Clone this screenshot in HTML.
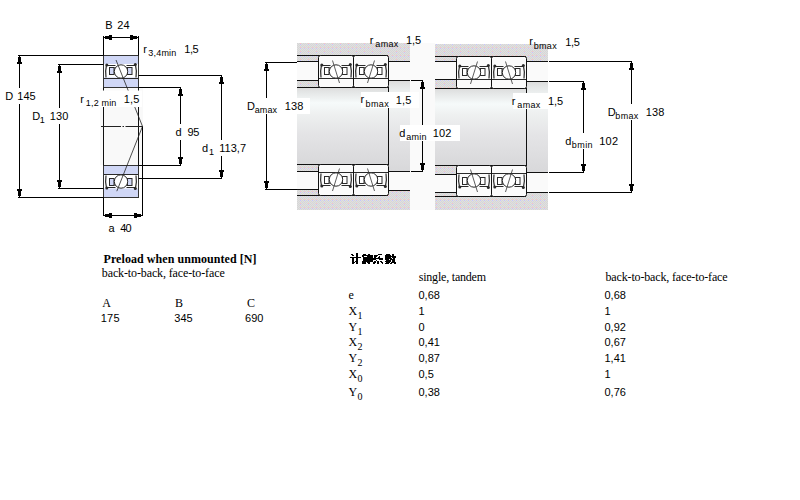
<!DOCTYPE html>
<html><head><meta charset="utf-8"><style>
html,body{margin:0;padding:0;background:#fff;width:800px;height:500px;overflow:hidden}
svg{position:absolute;left:0;top:0}
</style></head><body>
<svg width="800" height="500" viewBox="0 0 800 500">
<defs><linearGradient id="shaft" x1="0" y1="0" x2="0" y2="1">
<stop offset="0" stop-color="#dcdcdc"/><stop offset="0.06" stop-color="#e4e6e6"/><stop offset="0.2" stop-color="#f6fafa"/><stop offset="0.35" stop-color="#eef0f0"/><stop offset="0.6" stop-color="#e4e4e6"/><stop offset="1" stop-color="#d8d8da"/>
</linearGradient>
<pattern id="hous" x="4" y="3" width="8" height="8" patternUnits="userSpaceOnUse">
<rect width="8" height="8" fill="#d6d6d6"/>
<path d="M0,0h1v1h-1zM2,0h1v1h-1zM4,0h1v1h-1zM6,0h1v1h-1zM1,1h1v1h-1zM3,1h1v1h-1zM5,1h1v1h-1zM7,1h1v1h-1zM0,2h1v1h-1zM2,2h1v1h-1zM4,2h1v1h-1zM6,2h1v1h-1zM1,3h1v1h-1zM3,3h1v1h-1zM5,3h1v1h-1zM7,3h1v1h-1zM0,4h1v1h-1zM2,4h1v1h-1zM4,4h1v1h-1zM6,4h1v1h-1zM1,5h1v1h-1zM3,5h1v1h-1zM5,5h1v1h-1zM7,5h1v1h-1zM0,6h1v1h-1zM2,6h1v1h-1zM4,6h1v1h-1zM6,6h1v1h-1zM1,7h1v1h-1zM3,7h1v1h-1zM5,7h1v1h-1zM7,7h1v1h-1z" fill="#e0e0e0"/>
<rect x="0" y="0" width="1" height="1" fill="#ffc4c4"/><rect x="0" y="1" width="1" height="1" fill="#c4c4ff"/>
<rect x="0" y="4" width="1" height="1" fill="#ffc4c4"/><rect x="0" y="5" width="1" height="1" fill="#c4c4ff"/>
<rect x="4" y="4" width="1" height="1" fill="#ffc4c4"/><rect x="4" y="5" width="1" height="1" fill="#c4c4ff"/>
</pattern></defs>
<rect x="100" y="88" width="43" height="77" fill="#f9f9f9" />
<rect x="103.5" y="55.5" width="35" height="32" fill="#d0d7f6" stroke="#333" stroke-width="1"/>
<rect x="104" y="64" width="34" height="13.5" fill="#fff" />
<path d="M107,65.5 L115.5,65.5" fill="none" stroke="#2a2a2a" stroke-width="1" />
<path d="M126.5,65.5 L135,65.5" fill="none" stroke="#2a2a2a" stroke-width="1" />
<line x1="104" y1="78.5" x2="138" y2="78.5" stroke="#2a2a2a" stroke-width="1" />
<rect x="109.5" y="67.5" width="4.5" height="7" fill="#d0d7f6" stroke="#2a2a2a" stroke-width="1"/>
<rect x="127.5" y="67.5" width="4.5" height="7" fill="#d0d7f6" stroke="#2a2a2a" stroke-width="1"/>
<line x1="114" y1="68" x2="116" y2="68" stroke="#2a2a2a" stroke-width="1" />
<line x1="126" y1="68" x2="127.5" y2="68" stroke="#2a2a2a" stroke-width="1" />
<circle cx="121" cy="71.5" r="6.7" fill="#fff" stroke="#2a2a2a" stroke-width="1"/>
<path d="M106.5,65 Q105,71 106,77.5" fill="none" stroke="#2a2a2a" stroke-width="1.2" />
<path d="M135.5,65 Q137,71 136,77.5" fill="none" stroke="#2a2a2a" stroke-width="1.2" />
<circle cx="106.8" cy="65" r="1.5" fill="#2a2a2a"/>
<circle cx="135.3" cy="64.5" r="1.5" fill="#2a2a2a"/>
<rect x="103.5" y="165.5" width="35" height="32" fill="#d0d7f6" stroke="#333" stroke-width="1"/>
<rect x="104" y="175" width="34" height="13.5" fill="#fff" />
<path d="M107,187.5 L115.5,187.5" fill="none" stroke="#2a2a2a" stroke-width="1" />
<path d="M126.5,187.5 L135,187.5" fill="none" stroke="#2a2a2a" stroke-width="1" />
<line x1="104" y1="174.5" x2="138" y2="174.5" stroke="#2a2a2a" stroke-width="1" />
<rect x="109.5" y="178.5" width="4.5" height="7" fill="#d0d7f6" stroke="#2a2a2a" stroke-width="1"/>
<rect x="127.5" y="178.5" width="4.5" height="7" fill="#d0d7f6" stroke="#2a2a2a" stroke-width="1"/>
<line x1="114" y1="185" x2="116" y2="185" stroke="#2a2a2a" stroke-width="1" />
<line x1="126" y1="185" x2="127.5" y2="185" stroke="#2a2a2a" stroke-width="1" />
<circle cx="121" cy="181.5" r="6.7" fill="#fff" stroke="#2a2a2a" stroke-width="1"/>
<path d="M106.5,188 Q105,182 106,175.5" fill="none" stroke="#2a2a2a" stroke-width="1.2" />
<path d="M135.5,188 Q137,182 136,175.5" fill="none" stroke="#2a2a2a" stroke-width="1.2" />
<circle cx="106.8" cy="188" r="1.5" fill="#2a2a2a"/>
<circle cx="135.3" cy="188.5" r="1.5" fill="#2a2a2a"/>
<line x1="103.5" y1="87.5" x2="103.5" y2="165.5" stroke="#111" stroke-width="1" />
<line x1="138.5" y1="87.5" x2="138.5" y2="165.5" stroke="#111" stroke-width="1" />
<line x1="103.5" y1="36" x2="103.5" y2="55.5" stroke="#000" stroke-width="1" />
<line x1="138.5" y1="36" x2="138.5" y2="55.5" stroke="#000" stroke-width="1" />
<line x1="103.5" y1="37.5" x2="138.5" y2="37.5" stroke="#000" stroke-width="1" />
<path d="M103,37.0 V38.0 H105 V39.0 H109 V40.0 H112 V35.0 H109 V36.0 H105 V37.0 Z" fill="#000" stroke="none" stroke-width="1" />
<path d="M139,37.0 V38.0 H137 V39.0 H133 V40.0 H130 V35.0 H133 V36.0 H137 V37.0 Z" fill="#000" stroke="none" stroke-width="1" />
<text x="105.30" y="29" font-family="Liberation Sans" font-size="11">B</text>
<text x="117.30" y="29" font-family="Liberation Sans" font-size="11" textLength="12.25" lengthAdjust="spacing">24</text>
<line x1="18" y1="55.5" x2="103.5" y2="55.5" stroke="#000" stroke-width="1" />
<line x1="58" y1="64.5" x2="103.5" y2="64.5" stroke="#000" stroke-width="1" />
<line x1="19.5" y1="55.5" x2="19.5" y2="88" stroke="#000" stroke-width="1" />
<line x1="19.5" y1="104" x2="19.5" y2="197.5" stroke="#000" stroke-width="1" />
<path d="M19.0,55 H20.0 V57 H21.0 V62 H22.0 V64 H17.0 V62 H18.0 V57 H19.0 Z" fill="#000" stroke="none" stroke-width="1" />
<path d="M19.0,198 H20.0 V196 H21.0 V191 H22.0 V189 H17.0 V191 H18.0 V196 H19.0 Z" fill="#000" stroke="none" stroke-width="1" />
<line x1="59.5" y1="64.5" x2="59.5" y2="108" stroke="#000" stroke-width="1" />
<line x1="59.5" y1="124" x2="59.5" y2="188.5" stroke="#000" stroke-width="1" />
<path d="M59.0,64 H60.0 V66 H61.0 V71 H62.0 V73 H57.0 V71 H58.0 V66 H59.0 Z" fill="#000" stroke="none" stroke-width="1" />
<path d="M59.0,189 H60.0 V187 H61.0 V182 H62.0 V180 H57.0 V182 H58.0 V187 H59.0 Z" fill="#000" stroke="none" stroke-width="1" />
<line x1="18" y1="197.5" x2="103.5" y2="197.5" stroke="#000" stroke-width="1" />
<line x1="58" y1="188.5" x2="103.5" y2="188.5" stroke="#000" stroke-width="1" />
<text x="5.30" y="100" font-family="Liberation Sans" font-size="11">D</text>
<text x="17.30" y="100" font-family="Liberation Sans" font-size="11" textLength="18.36" lengthAdjust="spacing">145</text>
<text x="32.30" y="120" font-family="Liberation Sans" font-size="11">D</text>
<text x="39.70" y="123" font-family="Liberation Sans" font-size="9">1</text>
<text x="49.70" y="120" font-family="Liberation Sans" font-size="11" textLength="18.56" lengthAdjust="spacing">130</text>
<line x1="138.5" y1="75.5" x2="222" y2="75.5" stroke="#000" stroke-width="1" />
<line x1="138.5" y1="87.5" x2="181" y2="87.5" stroke="#000" stroke-width="1" />
<line x1="138.5" y1="165.5" x2="181" y2="165.5" stroke="#000" stroke-width="1" />
<line x1="138.5" y1="178.5" x2="222" y2="178.5" stroke="#000" stroke-width="1" />
<line x1="180.5" y1="87.5" x2="180.5" y2="124" stroke="#000" stroke-width="1" />
<line x1="180.5" y1="140" x2="180.5" y2="165.5" stroke="#000" stroke-width="1" />
<path d="M180.0,87 H181.0 V89 H182.0 V94 H183.0 V96 H178.0 V94 H179.0 V89 H180.0 Z" fill="#000" stroke="none" stroke-width="1" />
<path d="M180.0,166 H181.0 V164 H182.0 V159 H183.0 V157 H178.0 V159 H179.0 V164 H180.0 Z" fill="#000" stroke="none" stroke-width="1" />
<line x1="221.5" y1="75.5" x2="221.5" y2="140" stroke="#000" stroke-width="1" />
<line x1="221.5" y1="156" x2="221.5" y2="178.5" stroke="#000" stroke-width="1" />
<path d="M221.0,75 H222.0 V77 H223.0 V82 H224.0 V84 H219.0 V82 H220.0 V77 H221.0 Z" fill="#000" stroke="none" stroke-width="1" />
<path d="M221.0,179 H222.0 V177 H223.0 V172 H224.0 V170 H219.0 V172 H220.0 V177 H221.0 Z" fill="#000" stroke="none" stroke-width="1" />
<text x="175.55" y="136" font-family="Liberation Sans" font-size="11">d</text>
<text x="187.55" y="136" font-family="Liberation Sans" font-size="11" textLength="11.75" lengthAdjust="spacing">95</text>
<text x="202.00" y="152" font-family="Liberation Sans" font-size="11">d</text>
<text x="209.00" y="155" font-family="Liberation Sans" font-size="9">1</text>
<text x="219.30" y="152" font-family="Liberation Sans" font-size="11" textLength="26.72" lengthAdjust="spacing">113,7</text>
<path d="M116,60 L142.5,126.4 L116.8,191.2" fill="none" stroke="#222" stroke-width="0.8" />
<line x1="101" y1="126.5" x2="142.5" y2="126.5" stroke="#222" stroke-width="1" stroke-dasharray="20 1.5 1.5 1.5"/>
<line x1="103.5" y1="197.5" x2="103.5" y2="216" stroke="#000" stroke-width="1" />
<line x1="142.5" y1="126.5" x2="142.5" y2="216" stroke="#000" stroke-width="1" />
<line x1="103.5" y1="215.5" x2="142.5" y2="215.5" stroke="#000" stroke-width="1" />
<path d="M103,215.0 V216.0 H105 V217.0 H109 V218.0 H112 V213.0 H109 V214.0 H105 V215.0 Z" fill="#000" stroke="none" stroke-width="1" />
<path d="M143,215.0 V216.0 H141 V217.0 H137 V218.0 H134 V213.0 H137 V214.0 H141 V215.0 Z" fill="#000" stroke="none" stroke-width="1" />
<text x="108.55" y="232" font-family="Liberation Sans" font-size="11">a</text>
<text x="120.30" y="232" font-family="Liberation Sans" font-size="11" textLength="11.25" lengthAdjust="spacing">40</text>
<text x="143.30" y="53" font-family="Liberation Sans" font-size="11">r</text>
<text x="148.30" y="56" font-family="Liberation Sans" font-size="9" textLength="28.02" lengthAdjust="spacing">3,4min</text>
<text x="184.30" y="53" font-family="Liberation Sans" font-size="11" textLength="14.30" lengthAdjust="spacing">1,5</text>
<rect x="78" y="90.5" width="64" height="16.5" fill="#fff" />
<text x="80.30" y="103" font-family="Liberation Sans" font-size="11">r</text>
<text x="85.80" y="106" font-family="Liberation Sans" font-size="9" textLength="30.52" lengthAdjust="spacing">1,2 min</text>
<text x="123.70" y="103" font-family="Liberation Sans" font-size="11" textLength="15.70" lengthAdjust="spacing">1,5</text>
<rect x="410" y="43" width="25" height="167" fill="#fafafa" />
<rect x="297" y="43" width="113" height="167" fill="url(#hous)" />
<rect x="297" y="87.5" width="91.5" height="77" fill="url(#shaft)" />
<rect x="388.5" y="80.5" width="21.5" height="91" fill="url(#shaft)" />
<rect x="297" y="61.5" width="21" height="19" fill="#fafafa" />
<rect x="297" y="171.5" width="21" height="18" fill="#fafafa" />
<rect x="388.5" y="61.5" width="21.5" height="19" fill="#fafafa" />
<rect x="388.5" y="171.5" width="21.5" height="19" fill="#fafafa" />
<line x1="297" y1="55.5" x2="388" y2="55.5" stroke="#111" stroke-width="1" />
<line x1="297" y1="61.5" x2="318" y2="61.5" stroke="#111" stroke-width="1" />
<line x1="297" y1="80.5" x2="318" y2="80.5" stroke="#111" stroke-width="1" />
<line x1="297" y1="87.5" x2="388" y2="87.5" stroke="#111" stroke-width="1" />
<line x1="388" y1="61.5" x2="410" y2="61.5" stroke="#111" stroke-width="1" />
<line x1="388" y1="80.5" x2="410" y2="80.5" stroke="#111" stroke-width="1" />
<line x1="297" y1="164.5" x2="388" y2="164.5" stroke="#111" stroke-width="1" />
<line x1="297" y1="171.5" x2="318" y2="171.5" stroke="#111" stroke-width="1" />
<line x1="297" y1="189.5" x2="318" y2="189.5" stroke="#111" stroke-width="1" />
<line x1="297" y1="195.5" x2="388" y2="195.5" stroke="#111" stroke-width="1" />
<line x1="388" y1="171.5" x2="410" y2="171.5" stroke="#111" stroke-width="1" />
<line x1="388" y1="190.5" x2="410" y2="190.5" stroke="#111" stroke-width="1" />
<rect x="318.5" y="55.5" width="35" height="32" rx="2" fill="#fbfbfb" stroke="#111" stroke-width="1"/>
<path d="M322,65.5 L330.5,65.5" fill="none" stroke="#2a2a2a" stroke-width="1" />
<path d="M341.5,65.5 L350,65.5" fill="none" stroke="#2a2a2a" stroke-width="1" />
<line x1="319" y1="78.5" x2="353" y2="78.5" stroke="#2a2a2a" stroke-width="1" />
<rect x="324.5" y="67.5" width="4.5" height="7" fill="#fff" stroke="#2a2a2a" stroke-width="1"/>
<rect x="342.5" y="67.5" width="4.5" height="7" fill="#fff" stroke="#2a2a2a" stroke-width="1"/>
<line x1="329" y1="68" x2="331" y2="68" stroke="#2a2a2a" stroke-width="1" />
<line x1="341" y1="68" x2="342.5" y2="68" stroke="#2a2a2a" stroke-width="1" />
<circle cx="336" cy="71.5" r="6.7" fill="#fff" stroke="#2a2a2a" stroke-width="1"/>
<path d="M321.5,65 Q320,71 321,77.5" fill="none" stroke="#2a2a2a" stroke-width="1.2" />
<path d="M350.5,65 Q352,71 351,77.5" fill="none" stroke="#2a2a2a" stroke-width="1.2" />
<circle cx="321.8" cy="65" r="1.5" fill="#2a2a2a"/>
<circle cx="350.3" cy="64.5" r="1.5" fill="#2a2a2a"/>
<line x1="332.5" y1="60.5" x2="339.5" y2="83.0" stroke="#333" stroke-width="0.8" />
<rect x="353.5" y="55.5" width="35" height="32" rx="2" fill="#fbfbfb" stroke="#111" stroke-width="1"/>
<path d="M357,65.5 L365.5,65.5" fill="none" stroke="#2a2a2a" stroke-width="1" />
<path d="M376.5,65.5 L385,65.5" fill="none" stroke="#2a2a2a" stroke-width="1" />
<line x1="354" y1="78.5" x2="388" y2="78.5" stroke="#2a2a2a" stroke-width="1" />
<rect x="359.5" y="67.5" width="4.5" height="7" fill="#fff" stroke="#2a2a2a" stroke-width="1"/>
<rect x="377.5" y="67.5" width="4.5" height="7" fill="#fff" stroke="#2a2a2a" stroke-width="1"/>
<line x1="364" y1="68" x2="366" y2="68" stroke="#2a2a2a" stroke-width="1" />
<line x1="376" y1="68" x2="377.5" y2="68" stroke="#2a2a2a" stroke-width="1" />
<circle cx="371" cy="71.5" r="6.7" fill="#fff" stroke="#2a2a2a" stroke-width="1"/>
<path d="M356.5,65 Q355,71 356,77.5" fill="none" stroke="#2a2a2a" stroke-width="1.2" />
<path d="M385.5,65 Q387,71 386,77.5" fill="none" stroke="#2a2a2a" stroke-width="1.2" />
<circle cx="356.8" cy="65" r="1.5" fill="#2a2a2a"/>
<circle cx="385.3" cy="64.5" r="1.5" fill="#2a2a2a"/>
<line x1="374.5" y1="60.5" x2="367.5" y2="83.0" stroke="#333" stroke-width="0.8" />
<rect x="318.5" y="164.5" width="35" height="31" rx="2" fill="#fbfbfb" stroke="#111" stroke-width="1"/>
<path d="M322,185.5 L330.5,185.5" fill="none" stroke="#2a2a2a" stroke-width="1" />
<path d="M341.5,185.5 L350,185.5" fill="none" stroke="#2a2a2a" stroke-width="1" />
<line x1="319" y1="172.5" x2="353" y2="172.5" stroke="#2a2a2a" stroke-width="1" />
<rect x="324.5" y="176.5" width="4.5" height="7" fill="#fff" stroke="#2a2a2a" stroke-width="1"/>
<rect x="342.5" y="176.5" width="4.5" height="7" fill="#fff" stroke="#2a2a2a" stroke-width="1"/>
<line x1="329" y1="183" x2="331" y2="183" stroke="#2a2a2a" stroke-width="1" />
<line x1="341" y1="183" x2="342.5" y2="183" stroke="#2a2a2a" stroke-width="1" />
<circle cx="336" cy="179.5" r="6.7" fill="#fff" stroke="#2a2a2a" stroke-width="1"/>
<path d="M321.5,186 Q320,180 321,173.5" fill="none" stroke="#2a2a2a" stroke-width="1.2" />
<path d="M350.5,186 Q352,180 351,173.5" fill="none" stroke="#2a2a2a" stroke-width="1.2" />
<circle cx="321.8" cy="186" r="1.5" fill="#2a2a2a"/>
<circle cx="350.3" cy="186.5" r="1.5" fill="#2a2a2a"/>
<line x1="339.5" y1="168.5" x2="332.5" y2="191.0" stroke="#333" stroke-width="0.8" />
<rect x="353.5" y="164.5" width="35" height="31" rx="2" fill="#fbfbfb" stroke="#111" stroke-width="1"/>
<path d="M357,185.5 L365.5,185.5" fill="none" stroke="#2a2a2a" stroke-width="1" />
<path d="M376.5,185.5 L385,185.5" fill="none" stroke="#2a2a2a" stroke-width="1" />
<line x1="354" y1="172.5" x2="388" y2="172.5" stroke="#2a2a2a" stroke-width="1" />
<rect x="359.5" y="176.5" width="4.5" height="7" fill="#fff" stroke="#2a2a2a" stroke-width="1"/>
<rect x="377.5" y="176.5" width="4.5" height="7" fill="#fff" stroke="#2a2a2a" stroke-width="1"/>
<line x1="364" y1="183" x2="366" y2="183" stroke="#2a2a2a" stroke-width="1" />
<line x1="376" y1="183" x2="377.5" y2="183" stroke="#2a2a2a" stroke-width="1" />
<circle cx="371" cy="179.5" r="6.7" fill="#fff" stroke="#2a2a2a" stroke-width="1"/>
<path d="M356.5,186 Q355,180 356,173.5" fill="none" stroke="#2a2a2a" stroke-width="1.2" />
<path d="M385.5,186 Q387,180 386,173.5" fill="none" stroke="#2a2a2a" stroke-width="1.2" />
<circle cx="356.8" cy="186" r="1.5" fill="#2a2a2a"/>
<circle cx="385.3" cy="186.5" r="1.5" fill="#2a2a2a"/>
<line x1="367.5" y1="168.5" x2="374.5" y2="191.0" stroke="#333" stroke-width="0.8" />
<line x1="388.5" y1="87" x2="388.5" y2="165" stroke="#111" stroke-width="1" />
<rect x="435" y="44" width="113" height="166" fill="url(#hous)" />
<rect x="435" y="88.5" width="91.5" height="77" fill="url(#shaft)" />
<rect x="526.5" y="81.5" width="21.5" height="91" fill="url(#shaft)" />
<rect x="435" y="61.5" width="21" height="18" fill="#fafafa" />
<rect x="435" y="174.5" width="21" height="18" fill="#fafafa" />
<rect x="526.5" y="61.5" width="21.5" height="20" fill="#fafafa" />
<rect x="526.5" y="172.5" width="21.5" height="20" fill="#fafafa" />
<line x1="435" y1="56.5" x2="526" y2="56.5" stroke="#111" stroke-width="1" />
<line x1="435" y1="61.5" x2="456" y2="61.5" stroke="#111" stroke-width="1" />
<line x1="435" y1="79.5" x2="456" y2="79.5" stroke="#111" stroke-width="1" />
<line x1="435" y1="88.5" x2="526" y2="88.5" stroke="#111" stroke-width="1" />
<line x1="526" y1="61.5" x2="548" y2="61.5" stroke="#111" stroke-width="1" />
<line x1="526" y1="81.5" x2="548" y2="81.5" stroke="#111" stroke-width="1" />
<line x1="435" y1="165.5" x2="526" y2="165.5" stroke="#111" stroke-width="1" />
<line x1="435" y1="174.5" x2="456" y2="174.5" stroke="#111" stroke-width="1" />
<line x1="435" y1="192.5" x2="456" y2="192.5" stroke="#111" stroke-width="1" />
<line x1="435" y1="196.5" x2="526" y2="196.5" stroke="#111" stroke-width="1" />
<line x1="526" y1="172.5" x2="548" y2="172.5" stroke="#111" stroke-width="1" />
<line x1="526" y1="192.5" x2="548" y2="192.5" stroke="#111" stroke-width="1" />
<rect x="456.5" y="56.5" width="35" height="32" rx="2" fill="#fbfbfb" stroke="#111" stroke-width="1"/>
<path d="M460,66.5 L468.5,66.5" fill="none" stroke="#2a2a2a" stroke-width="1" />
<path d="M479.5,66.5 L488,66.5" fill="none" stroke="#2a2a2a" stroke-width="1" />
<line x1="457" y1="79.5" x2="491" y2="79.5" stroke="#2a2a2a" stroke-width="1" />
<rect x="462.5" y="68.5" width="4.5" height="7" fill="#fff" stroke="#2a2a2a" stroke-width="1"/>
<rect x="480.5" y="68.5" width="4.5" height="7" fill="#fff" stroke="#2a2a2a" stroke-width="1"/>
<line x1="467" y1="69" x2="469" y2="69" stroke="#2a2a2a" stroke-width="1" />
<line x1="479" y1="69" x2="480.5" y2="69" stroke="#2a2a2a" stroke-width="1" />
<circle cx="474" cy="72.5" r="6.7" fill="#fff" stroke="#2a2a2a" stroke-width="1"/>
<path d="M459.5,66 Q458,72 459,78.5" fill="none" stroke="#2a2a2a" stroke-width="1.2" />
<path d="M488.5,66 Q490,72 489,78.5" fill="none" stroke="#2a2a2a" stroke-width="1.2" />
<circle cx="459.8" cy="66" r="1.5" fill="#2a2a2a"/>
<circle cx="488.3" cy="65.5" r="1.5" fill="#2a2a2a"/>
<line x1="477.5" y1="61.5" x2="470.5" y2="84.0" stroke="#333" stroke-width="0.8" />
<rect x="491.5" y="56.5" width="35" height="32" rx="2" fill="#fbfbfb" stroke="#111" stroke-width="1"/>
<path d="M495,66.5 L503.5,66.5" fill="none" stroke="#2a2a2a" stroke-width="1" />
<path d="M514.5,66.5 L523,66.5" fill="none" stroke="#2a2a2a" stroke-width="1" />
<line x1="492" y1="79.5" x2="526" y2="79.5" stroke="#2a2a2a" stroke-width="1" />
<rect x="497.5" y="68.5" width="4.5" height="7" fill="#fff" stroke="#2a2a2a" stroke-width="1"/>
<rect x="515.5" y="68.5" width="4.5" height="7" fill="#fff" stroke="#2a2a2a" stroke-width="1"/>
<line x1="502" y1="69" x2="504" y2="69" stroke="#2a2a2a" stroke-width="1" />
<line x1="514" y1="69" x2="515.5" y2="69" stroke="#2a2a2a" stroke-width="1" />
<circle cx="509" cy="72.5" r="6.7" fill="#fff" stroke="#2a2a2a" stroke-width="1"/>
<path d="M494.5,66 Q493,72 494,78.5" fill="none" stroke="#2a2a2a" stroke-width="1.2" />
<path d="M523.5,66 Q525,72 524,78.5" fill="none" stroke="#2a2a2a" stroke-width="1.2" />
<circle cx="494.8" cy="66" r="1.5" fill="#2a2a2a"/>
<circle cx="523.3" cy="65.5" r="1.5" fill="#2a2a2a"/>
<line x1="505.5" y1="61.5" x2="512.5" y2="84.0" stroke="#333" stroke-width="0.8" />
<rect x="456.5" y="165.5" width="35" height="31" rx="2" fill="#fbfbfb" stroke="#111" stroke-width="1"/>
<path d="M460,186.5 L468.5,186.5" fill="none" stroke="#2a2a2a" stroke-width="1" />
<path d="M479.5,186.5 L488,186.5" fill="none" stroke="#2a2a2a" stroke-width="1" />
<line x1="457" y1="173.5" x2="491" y2="173.5" stroke="#2a2a2a" stroke-width="1" />
<rect x="462.5" y="177.5" width="4.5" height="7" fill="#fff" stroke="#2a2a2a" stroke-width="1"/>
<rect x="480.5" y="177.5" width="4.5" height="7" fill="#fff" stroke="#2a2a2a" stroke-width="1"/>
<line x1="467" y1="184" x2="469" y2="184" stroke="#2a2a2a" stroke-width="1" />
<line x1="479" y1="184" x2="480.5" y2="184" stroke="#2a2a2a" stroke-width="1" />
<circle cx="474" cy="180.5" r="6.7" fill="#fff" stroke="#2a2a2a" stroke-width="1"/>
<path d="M459.5,187 Q458,181 459,174.5" fill="none" stroke="#2a2a2a" stroke-width="1.2" />
<path d="M488.5,187 Q490,181 489,174.5" fill="none" stroke="#2a2a2a" stroke-width="1.2" />
<circle cx="459.8" cy="187" r="1.5" fill="#2a2a2a"/>
<circle cx="488.3" cy="187.5" r="1.5" fill="#2a2a2a"/>
<line x1="470.5" y1="169.5" x2="477.5" y2="192.0" stroke="#333" stroke-width="0.8" />
<rect x="491.5" y="165.5" width="35" height="31" rx="2" fill="#fbfbfb" stroke="#111" stroke-width="1"/>
<path d="M495,186.5 L503.5,186.5" fill="none" stroke="#2a2a2a" stroke-width="1" />
<path d="M514.5,186.5 L523,186.5" fill="none" stroke="#2a2a2a" stroke-width="1" />
<line x1="492" y1="173.5" x2="526" y2="173.5" stroke="#2a2a2a" stroke-width="1" />
<rect x="497.5" y="177.5" width="4.5" height="7" fill="#fff" stroke="#2a2a2a" stroke-width="1"/>
<rect x="515.5" y="177.5" width="4.5" height="7" fill="#fff" stroke="#2a2a2a" stroke-width="1"/>
<line x1="502" y1="184" x2="504" y2="184" stroke="#2a2a2a" stroke-width="1" />
<line x1="514" y1="184" x2="515.5" y2="184" stroke="#2a2a2a" stroke-width="1" />
<circle cx="509" cy="180.5" r="6.7" fill="#fff" stroke="#2a2a2a" stroke-width="1"/>
<path d="M494.5,187 Q493,181 494,174.5" fill="none" stroke="#2a2a2a" stroke-width="1.2" />
<path d="M523.5,187 Q525,181 524,174.5" fill="none" stroke="#2a2a2a" stroke-width="1.2" />
<circle cx="494.8" cy="187" r="1.5" fill="#2a2a2a"/>
<circle cx="523.3" cy="187.5" r="1.5" fill="#2a2a2a"/>
<line x1="512.5" y1="169.5" x2="505.5" y2="192.0" stroke="#333" stroke-width="0.8" />
<line x1="526.5" y1="88" x2="526.5" y2="166" stroke="#111" stroke-width="1" />
<line x1="265" y1="62.5" x2="297" y2="62.5" stroke="#000" stroke-width="1" />
<line x1="265" y1="189.5" x2="297" y2="189.5" stroke="#000" stroke-width="1" />
<line x1="266.5" y1="62.5" x2="266.5" y2="98" stroke="#000" stroke-width="1" />
<line x1="266.5" y1="114" x2="266.5" y2="189.5" stroke="#000" stroke-width="1" />
<path d="M266.0,62 H267.0 V64 H268.0 V69 H269.0 V71 H264.0 V69 H265.0 V64 H266.0 Z" fill="#000" stroke="none" stroke-width="1" />
<path d="M266.0,190 H267.0 V188 H268.0 V183 H269.0 V181 H264.0 V183 H265.0 V188 H266.0 Z" fill="#000" stroke="none" stroke-width="1" />
<line x1="411" y1="80.5" x2="423" y2="80.5" stroke="#000" stroke-width="1" />
<line x1="411" y1="171.5" x2="423" y2="171.5" stroke="#000" stroke-width="1" />
<line x1="422.5" y1="80.5" x2="422.5" y2="125" stroke="#000" stroke-width="1" />
<line x1="422.5" y1="141" x2="422.5" y2="171.5" stroke="#000" stroke-width="1" />
<path d="M422.0,80 H423.0 V82 H424.0 V87 H425.0 V89 H420.0 V87 H421.0 V82 H422.0 Z" fill="#000" stroke="none" stroke-width="1" />
<path d="M422.0,172 H423.0 V170 H424.0 V165 H425.0 V163 H420.0 V165 H421.0 V170 H422.0 Z" fill="#000" stroke="none" stroke-width="1" />
<rect x="245" y="98" width="65" height="16" fill="#fff" />
<text x="247.00" y="110" font-family="Liberation Sans" font-size="11">D</text>
<text x="254.70" y="113" font-family="Liberation Sans" font-size="9" textLength="22.42" lengthAdjust="spacing">amax</text>
<text x="284.70" y="110" font-family="Liberation Sans" font-size="11" textLength="18.56" lengthAdjust="spacing">138</text>
<text x="369.70" y="44" font-family="Liberation Sans" font-size="11">r</text>
<text x="375.30" y="47" font-family="Liberation Sans" font-size="9" textLength="23.02" lengthAdjust="spacing">amax</text>
<text x="405.90" y="44" font-family="Liberation Sans" font-size="11" textLength="15.30" lengthAdjust="spacing">1,5</text>
<rect x="361" y="92" width="58" height="16" fill="#fff" />
<text x="360.60" y="103" font-family="Liberation Sans" font-size="11">r</text>
<text x="365.40" y="107" font-family="Liberation Sans" font-size="9" textLength="23.42" lengthAdjust="spacing">bmax</text>
<text x="395.70" y="104" font-family="Liberation Sans" font-size="11" textLength="15.70" lengthAdjust="spacing">1,5</text>
<rect x="400" y="125" width="60" height="16" fill="#fff" />
<text x="399.30" y="137" font-family="Liberation Sans" font-size="11">d</text>
<text x="406.30" y="140" font-family="Liberation Sans" font-size="9" textLength="20.32" lengthAdjust="spacing">amin</text>
<text x="432.70" y="137" font-family="Liberation Sans" font-size="11" textLength="18.56" lengthAdjust="spacing">102</text>
<line x1="549" y1="61.5" x2="632" y2="61.5" stroke="#000" stroke-width="1" />
<line x1="549" y1="192.5" x2="632" y2="192.5" stroke="#000" stroke-width="1" />
<line x1="549" y1="81.5" x2="584" y2="81.5" stroke="#000" stroke-width="1" />
<line x1="549" y1="172.5" x2="584" y2="172.5" stroke="#000" stroke-width="1" />
<line x1="631.5" y1="61.5" x2="631.5" y2="104" stroke="#000" stroke-width="1" />
<line x1="631.5" y1="120" x2="631.5" y2="192.5" stroke="#000" stroke-width="1" />
<path d="M631.0,61 H632.0 V63 H633.0 V68 H634.0 V70 H629.0 V68 H630.0 V63 H631.0 Z" fill="#000" stroke="none" stroke-width="1" />
<path d="M631.0,193 H632.0 V191 H633.0 V186 H634.0 V184 H629.0 V186 H630.0 V191 H631.0 Z" fill="#000" stroke="none" stroke-width="1" />
<line x1="583.5" y1="81.5" x2="583.5" y2="133" stroke="#000" stroke-width="1" />
<line x1="583.5" y1="149" x2="583.5" y2="172.5" stroke="#000" stroke-width="1" />
<path d="M583.0,81 H584.0 V83 H585.0 V88 H586.0 V90 H581.0 V88 H582.0 V83 H583.0 Z" fill="#000" stroke="none" stroke-width="1" />
<path d="M583.0,173 H584.0 V171 H585.0 V166 H586.0 V164 H581.0 V166 H582.0 V171 H583.0 Z" fill="#000" stroke="none" stroke-width="1" />
<text x="529.30" y="45" font-family="Liberation Sans" font-size="11">r</text>
<text x="533.70" y="49" font-family="Liberation Sans" font-size="9" textLength="23.02" lengthAdjust="spacing">bmax</text>
<text x="565.30" y="46" font-family="Liberation Sans" font-size="11" textLength="14.50" lengthAdjust="spacing">1,5</text>
<rect x="513" y="93" width="35" height="16" fill="#fff" />
<text x="511.70" y="105" font-family="Liberation Sans" font-size="11">r</text>
<text x="517.30" y="108" font-family="Liberation Sans" font-size="9" textLength="23.02" lengthAdjust="spacing">amax</text>
<text x="547.90" y="105" font-family="Liberation Sans" font-size="11" textLength="15.30" lengthAdjust="spacing">1,5</text>
<text x="607.70" y="116" font-family="Liberation Sans" font-size="11">D</text>
<text x="615.30" y="119" font-family="Liberation Sans" font-size="9" textLength="23.02" lengthAdjust="spacing">bmax</text>
<text x="645.70" y="116" font-family="Liberation Sans" font-size="11" textLength="18.76" lengthAdjust="spacing">138</text>
<text x="565.30" y="145" font-family="Liberation Sans" font-size="11">d</text>
<text x="571.70" y="148" font-family="Liberation Sans" font-size="9" textLength="20.92" lengthAdjust="spacing">bmin</text>
<text x="599.30" y="145" font-family="Liberation Sans" font-size="11" textLength="18.76" lengthAdjust="spacing">102</text>
<text x="103.55" y="263" font-family="Liberation Serif" font-size="12" font-weight="bold" textLength="152.97" lengthAdjust="spacing">Preload when unmounted [N]</text>
<text x="101.80" y="277" font-family="Liberation Serif" font-size="12" textLength="122.91" lengthAdjust="spacing">back-to-back, face-to-face</text>
<text x="102.30" y="307" font-family="Liberation Serif" font-size="12">A</text>
<text x="175.10" y="307" font-family="Liberation Serif" font-size="12">B</text>
<text x="247.00" y="307" font-family="Liberation Serif" font-size="12">C</text>
<text x="100.80" y="322" font-family="Liberation Sans" font-size="11" textLength="18.76" lengthAdjust="spacing">175</text>
<text x="174.30" y="322" font-family="Liberation Sans" font-size="11" textLength="18.36" lengthAdjust="spacing">345</text>
<text x="245.10" y="322" font-family="Liberation Sans" font-size="11" textLength="18.36" lengthAdjust="spacing">690</text>
<text x="418.70" y="281" font-family="Liberation Serif" font-size="12" textLength="67.38" lengthAdjust="spacing">single, tandem</text>
<text x="605.50" y="281" font-family="Liberation Serif" font-size="12" textLength="122.11" lengthAdjust="spacing">back-to-back, face-to-face</text>
<text x="348.5" y="299" font-family="Liberation Serif" font-size="12">e</text>
<text x="418.5" y="299" font-family="Liberation Sans" font-size="11">0,68</text>
<text x="604.5" y="299" font-family="Liberation Sans" font-size="11">0,68</text>
<text x="348.5" y="315" font-family="Liberation Serif" font-size="12">X</text>
<text x="357.5" y="319" font-family="Liberation Serif" font-size="10">1</text>
<text x="418.5" y="315" font-family="Liberation Sans" font-size="11">1</text>
<text x="604.5" y="315" font-family="Liberation Sans" font-size="11">1</text>
<text x="348.5" y="331" font-family="Liberation Serif" font-size="12">Y</text>
<text x="357.5" y="335" font-family="Liberation Serif" font-size="10">1</text>
<text x="418.5" y="331" font-family="Liberation Sans" font-size="11">0</text>
<text x="604.5" y="331" font-family="Liberation Sans" font-size="11">0,92</text>
<text x="348.5" y="346" font-family="Liberation Serif" font-size="12">X</text>
<text x="357.5" y="350" font-family="Liberation Serif" font-size="10">2</text>
<text x="418.5" y="346" font-family="Liberation Sans" font-size="11">0,41</text>
<text x="604.5" y="346" font-family="Liberation Sans" font-size="11">0,67</text>
<text x="348.5" y="362" font-family="Liberation Serif" font-size="12">Y</text>
<text x="357.5" y="366" font-family="Liberation Serif" font-size="10">2</text>
<text x="418.5" y="362" font-family="Liberation Sans" font-size="11">0,87</text>
<text x="604.5" y="362" font-family="Liberation Sans" font-size="11">1,41</text>
<text x="348.5" y="378" font-family="Liberation Serif" font-size="12">X</text>
<text x="357.5" y="382" font-family="Liberation Serif" font-size="10">0</text>
<text x="418.5" y="378" font-family="Liberation Sans" font-size="11">0,5</text>
<text x="604.5" y="378" font-family="Liberation Sans" font-size="11">1</text>
<text x="348.5" y="396" font-family="Liberation Serif" font-size="12">Y</text>
<text x="357.5" y="400" font-family="Liberation Serif" font-size="10">0</text>
<text x="418.5" y="396" font-family="Liberation Sans" font-size="11">0,38</text>
<text x="604.5" y="396" font-family="Liberation Sans" font-size="11">0,76</text>
<path d="M356,253h2v1h-2zM351,254h2v1h-2zM356,254h2v1h-2zM363,254h3v1h-3zM368,254h2v1h-2zM378,254h4v1h-4zM386,254h4v1h-4zM392,254h2v1h-2zM352,255h2v1h-2zM356,255h2v1h-2zM362,255h11v1h-11zM374,255h4v1h-4zM385,255h6v1h-6zM392,255h2v1h-2zM356,256h2v1h-2zM362,256h2v1h-2zM367,256h6v1h-6zM374,256h3v1h-3zM379,256h1v1h-1zM385,256h11v1h-11zM350,257h11v1h-11zM363,257h10v1h-10zM374,257h2v1h-2zM378,257h2v1h-2zM385,257h6v1h-6zM392,257h4v1h-4zM352,258h2v1h-2zM356,258h2v1h-2zM363,258h10v1h-10zM373,258h10v1h-10zM385,258h7v1h-7zM393,258h2v1h-2zM352,259h2v1h-2zM356,259h2v1h-2zM363,259h10v1h-10zM373,259h3v1h-3zM379,259h4v1h-4zM385,259h4v1h-4zM390,259h5v1h-5zM352,260h2v1h-2zM356,260h2v1h-2zM363,260h10v1h-10zM376,260h1v1h-1zM386,260h5v1h-5zM392,260h3v1h-3zM352,261h2v1h-2zM355,261h3v1h-3zM362,261h11v1h-11zM374,261h2v1h-2zM377,261h2v1h-2zM380,261h2v1h-2zM385,261h6v1h-6zM392,261h3v1h-3zM352,262h3v1h-3zM356,262h2v1h-2zM362,262h4v1h-4zM367,262h3v1h-3zM373,262h3v1h-3zM377,262h2v1h-2zM381,262h2v1h-2zM386,262h4v1h-4zM391,262h5v1h-5zM352,263h2v1h-2zM356,263h2v1h-2zM362,263h4v1h-4zM368,263h2v1h-2zM373,263h2v1h-2zM377,263h2v1h-2zM382,263h1v1h-1zM385,263h4v1h-4zM390,263h2v1h-2zM394,263h2v1h-2z" fill="#000" stroke="none" stroke-width="1" />
</svg></body></html>
